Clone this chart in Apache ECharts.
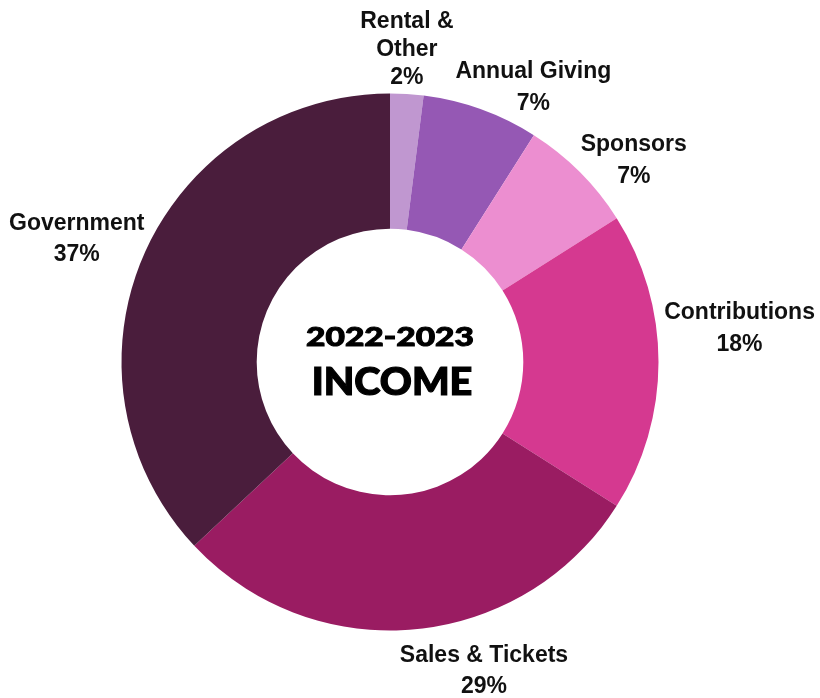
<!DOCTYPE html>
<html>
<head>
<meta charset="utf-8">
<style>
  html, body { margin: 0; padding: 0; background: #ffffff; }
  #chart { width: 820px; height: 698px; }
</style>
<script src="https://cdn.jsdelivr.net/npm/echarts@6/dist/echarts.min.js"></script>
</head>
<body>
<div id="chart"></div>
<script>
// ---- data ----
const categories = ['Rental & Other', 'Annual Giving', 'Sponsors', 'Contributions', 'Sales & Tickets', 'Government'];
const percents = [2, 7, 7, 18, 29, 37];
const titleLines = ['2022-2023', 'INCOME'];

// ---- styling ----
const colors = ['#C097D0', '#9558B4', '#EC8ED0', '#D53990', '#9A1C62', '#4A1D3C'];
const wrappedNames = { 'Rental & Other': 'Rental &\nOther' };
const labelAngleShiftDeg = [-0.5, 7.8, 5.5, -5.5, -11.5, -2];
const labelGap = [2, -19.5, -11, 5, 4.5, -5];
const labelLineHeight = [28, 32, 32, 32, 31, 31];
const CX = 390, CY = 362, R_OUT = 268.5, R_IN = 133.3;

const total = percents.reduce((a, b) => a + b, 0);
const cumBefore = percents.map((v, i) => percents.slice(0, i).reduce((a, b) => a + b, 0));

const chart = echarts.init(document.getElementById('chart'), null, { renderer: 'canvas' });

const labelFont = {
  fontFamily: 'Liberation Sans, Arial, sans-serif',
  fontWeight: 'bold',
  fontSize: 23,
  color: '#111111',
  align: 'center'
};
const rich = {};
labelLineHeight.forEach((lh, i) => { rich['n' + i] = Object.assign({ lineHeight: lh }, labelFont); });

const option = {
  backgroundColor: '#ffffff',
  animation: false,
  graphic: [
    {
      type: 'text', x: CX, y: 337, scaleX: 1.24, scaleY: 1,
      style: {
        text: titleLines[0], x: 0, y: 0, align: 'center', verticalAlign: 'middle',
        fontFamily: 'Lato', fontWeight: 900, fontSize: 27, fill: '#000000',
        stroke: '#000000', lineWidth: 1
      }
    },
    {
      type: 'text', x: CX + 2, y: 383, scaleX: 1.07, scaleY: 1,
      style: {
        text: titleLines[1], x: 0, y: 0, align: 'center', verticalAlign: 'middle',
        fontFamily: 'Lato', fontWeight: 900, fontSize: 37, fill: '#000000',
        stroke: '#000000', lineWidth: 1.2
      }
    }
  ],
  series: [{
    type: 'pie',
    center: [CX, CY],
    radius: [R_IN, R_OUT],
    startAngle: 90,
    clockwise: true,
    avoidLabelOverlap: false,
    emphasis: { disabled: true },
    itemStyle: { borderWidth: 0 },
    labelLine: { show: false },
    label: {
      show: true,
      position: 'outside',
      formatter: function (p) {
        const nm = wrappedNames[p.name] || p.name;
        const k = 'n' + p.dataIndex;
        return '{' + k + '|' + nm + '}\n{' + k + '|' + p.value + '%}';
      },
      rich: rich
    },
    labelLayout: function (params) {
      const i = params.dataIndex;
      const frac = (cumBefore[i] + percents[i] / 2) / total;
      const ang = frac * 2 * Math.PI + labelAngleShiftDeg[i] * Math.PI / 180;
      const ux = Math.sin(ang), uy = -Math.cos(ang);
      const w = params.labelRect.width, h = params.labelRect.height;
      const ext = Math.abs(ux) * w / 2 + Math.abs(uy) * h / 2;
      const d = R_OUT + labelGap[i] + ext;
      return { x: CX + ux * d, y: CY + uy * d, align: 'center', verticalAlign: 'middle' };
    },
    data: categories.map((c, i) => ({ name: c, value: percents[i], itemStyle: { color: colors[i] } }))
  }]
};

chart.setOption(option);
</script>
</body>
</html>
